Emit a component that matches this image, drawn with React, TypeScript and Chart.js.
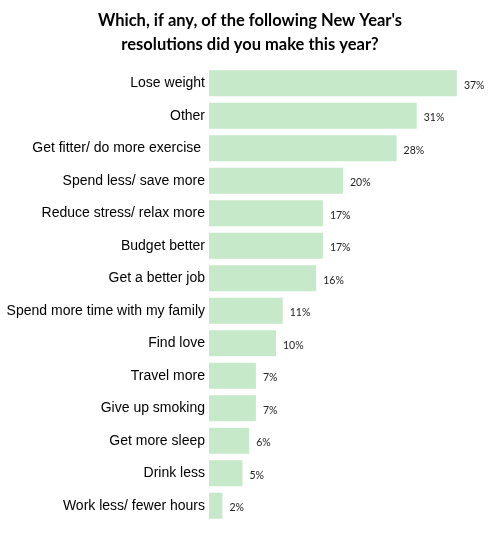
import React, { useEffect, useRef } from "react";
import { Chart, registerables } from "chart.js";

Chart.register(...registerables);

const titleLines = ["Which, if any, of the following New Year's", "resolutions did you make this year?"];
const categories = [
  "Lose weight",
  "Other",
  "Get fitter/ do more exercise ",
  "Spend less/ save more",
  "Reduce stress/ relax more",
  "Budget better",
  "Get a better job",
  "Spend more time with my family",
  "Find love",
  "Travel more",
  "Give up smoking",
  "Get more sleep",
  "Drink less",
  "Work less/ fewer hours",
];
const values = [37, 31, 28, 20, 17, 17, 16, 11, 10, 7, 7, 6, 5, 2];

const valueLabels = {
  id: "valueLabels",
  afterDatasetsDraw(chart: any) {
    const { ctx } = chart;
    const meta = chart.getDatasetMeta(0);
    ctx.save();
    ctx.font = "10.5px Lato, 'Open Sans', sans-serif";
    ctx.fillStyle = "#222";
    ctx.textBaseline = "middle";
    ctx.textAlign = "left";
    meta.data.forEach((bar: any, i: number) => {
      ctx.fillText(values[i] + "%", bar.x + 7, bar.y + 2);
    });
    ctx.restore();
  },
};

const titleDraw = {
  id: "titleDraw",
  afterDraw(chart: any) {
    const { ctx } = chart;
    ctx.save();
    ctx.font = "bold 16.5px Lato, 'Open Sans', sans-serif";
    ctx.fillStyle = "#000";
    ctx.textAlign = "center";
    ctx.textBaseline = "middle";
    ctx.fillText(titleLines[0], 250, 21);
    ctx.fillText(titleLines[1], 250, 45);
    ctx.restore();
  },
};

export default function App() {
  const ref = useRef<HTMLCanvasElement>(null);
  useEffect(() => {
    if (!ref.current) return;
    const chart = new Chart(ref.current, {
      type: "bar",
      data: {
        labels: categories,
        datasets: [
          {
            data: values,
            backgroundColor: "#c6e9c9",
            barPercentage: 0.8,
            categoryPercentage: 1,
          },
        ],
      },
      options: {
        indexAxis: "y",
        animation: false,
        responsive: false,
        maintainAspectRatio: false,
        layout: { padding: { top: 67, right: 13, bottom: 13, left: 0 } },
        plugins: {
          legend: { display: false },
          tooltip: { enabled: false },
          title: { display: false },
        },
        scales: {
          x: { display: false, min: 0, max: 40 },
          y: {
            grid: { display: false, drawTicks: false },
            border: { display: false },
            ticks: {
              color: "#000",
              padding: 4,
              font: { family: "'Liberation Sans', Arial, sans-serif", size: 14 },
            },
            afterFit(scale: any) {
              scale.width = 209;
            },
          },
        },
      },
      plugins: [valueLabels, titleDraw],
    });
    return () => chart.destroy();
  }, []);
  return (
    <div style={{ position: "fixed", left: 0, top: 0, width: 490, height: 535, background: "#fff" }}>
      <canvas ref={ref} width={490} height={535} style={{ width: 490, height: 535 }} />
    </div>
  );
}
